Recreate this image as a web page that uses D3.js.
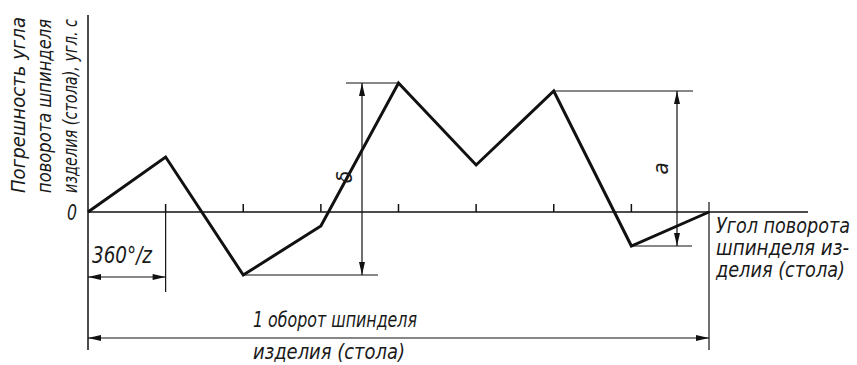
<!DOCTYPE html>
<html>
<head>
<meta charset="utf-8">
<script src="https://cdn.jsdelivr.net/npm/d3@7"></script>
<style>
  body { margin: 0; background: #fff; }
  svg text { font-family: "DejaVu Sans Condensed", "Liberation Sans Narrow", "DejaVu Sans", sans-serif; font-style: italic; fill: #1a1a1a; }
</style>
</head>
<body>
<svg id="chart" width="857" height="365"></svg>
<script>
// step index along one revolution (multiples of 360°/z)
const steps = [0, 1, 2, 3, 4, 5, 6, 7, 8];
// angle error at each step, arbitrary units
const errors = [0, 5.5, -6.3, -1.4, 12.9, 4.7, 12.1, -3.4, 0];
const tickSteps = [1, 2, 3, 4, 5, 6, 7];
const yLabelLines = ["Погрешность угла", "поворота шпинделя", "изделия (стола), угл. с"];
const xLabelLines = ["Угол поворота", "шпинделя из-", "делия (стола)"];
const pitchLabel = "360°/z";
const revLabel = ["1 оборот  шпинделя", "изделия (стола)"];

const svg = d3.select("#chart");
const x = d3.scaleLinear().domain([0, 8]).range([88, 709]);
const y = d3.scaleLinear().domain([-8, 14]).range([292, 72]);
const y0 = y(0);

const ink = "#111";
const tall = "scale(1,1.22)";   // drafting letters are taller than they are wide
function line(x1, y1, x2, y2, w=1.2) {
  svg.append("line").attr("x1", x1).attr("y1", y1).attr("x2", x2).attr("y2", y2)
    .attr("stroke", ink).attr("stroke-width", w);
}
// arrowhead with tip at (tx,ty) pointing direction (dx,dy)
function arrow(tx, ty, dx, dy) {
  const L = 13, W = 3;
  const bx = tx - dx*L, by = ty - dy*L;
  const px = -dy*W, py = dx*W;
  svg.append("path")
    .attr("d", `M${tx},${ty}L${bx+px},${by+py}L${bx-px},${by-py}Z`)
    .attr("fill", ink);
}
function dimV(xx, ya, yb) {
  line(xx, ya, xx, yb);
  arrow(xx, ya, 0, -1);
  arrow(xx, yb, 0, 1);
}
function dimH(xa, xb, yy) {
  line(xa, yy, xb, yy);
  arrow(xa, yy, -1, 0);
  arrow(xb, yy, 1, 0);
}
function label(tf, txt, size, len) {
  const t = svg.append("text").attr("transform", tf + " " + tall).attr("font-size", size).text(txt);
  if (len) t.attr("textLength", len).attr("lengthAdjust", "spacingAndGlyphs");
  return t;
}

/* axes */
line(x(0), 15, x(0), 350, 1.5);
line(x(0), y0, 808, y0, 1.5);
svg.selectAll(".tick").data(tickSteps).enter().append("line")
  .attr("x1", d => x(d)).attr("x2", d => x(d))
  .attr("y1", y0).attr("y2", y0 - 8)
  .attr("stroke", ink).attr("stroke-width", 1.5);
line(x(8), y0 - 10, x(8), 350, 1.2);

/* error profile */
svg.append("path")
  .datum(steps.map((s, i) => [s, errors[i]]))
  .attr("d", d3.line().x(d => x(d[0])).y(d => y(d[1])))
  .attr("fill", "none").attr("stroke", ink).attr("stroke-width", 3)
  .attr("stroke-linejoin", "miter");

/* delta dimension: peak-to-peak */
const iMax = d3.maxIndex(errors), iMin = d3.minIndex(errors);
const dX = 362;
line(dX - 16, y(errors[iMax]), x(steps[iMax]), y(errors[iMax]));
line(x(steps[iMin]), y(errors[iMin]), dX + 16, y(errors[iMin]));
dimV(dX, y(errors[iMax]), y(errors[iMin]));
svg.append("text").attr("transform", `translate(${dX - 10},${(y(errors[iMax]) + y(errors[iMin]))/2 - 2}) rotate(-90)`)
  .attr("text-anchor", "middle").attr("font-size", 22).text("δ");

/* a dimension: adjacent step jump */
const aX = 677;
line(x(steps[6]), y(errors[6]), aX + 16, y(errors[6]));
line(x(steps[7]), y(errors[7]), aX + 15, y(errors[7]));
dimV(aX, y(errors[6]), y(errors[7]));
svg.append("text").attr("transform", `translate(${aX - 9},${(y(errors[6]) + y(errors[7]))/2}) rotate(-90)`)
  .attr("text-anchor", "middle").attr("font-size", 22).text("a");

/* 360°/z pitch */
line(x(1), y0, x(1), 292);
dimH(x(0), x(1), 277);
label("translate(92,263)", pitchLabel, 19, 60);

/* one revolution */
dimH(x(0), x(8), 338);
label("translate(253,327)", revLabel[0], 17, 164);
label("translate(253,359)", revLabel[1], 17, 152);

/* zero label */
label(`translate(67,${y0 + 8})`, "0", 17, 10);

/* y label */
const yLens = [176, 174, 174];
yLabelLines.forEach((t, i) => {
  label(`translate(${25 + i*26},193) rotate(-90)`, t, 16.5, yLens[i]);
});

/* x label */
const xLens = [134, 133, 129];
xLabelLines.forEach((t, i) => {
  label(`translate(716,${233 + i*22})`, t, 17, xLens[i]);
});
</script>
</body>
</html>
